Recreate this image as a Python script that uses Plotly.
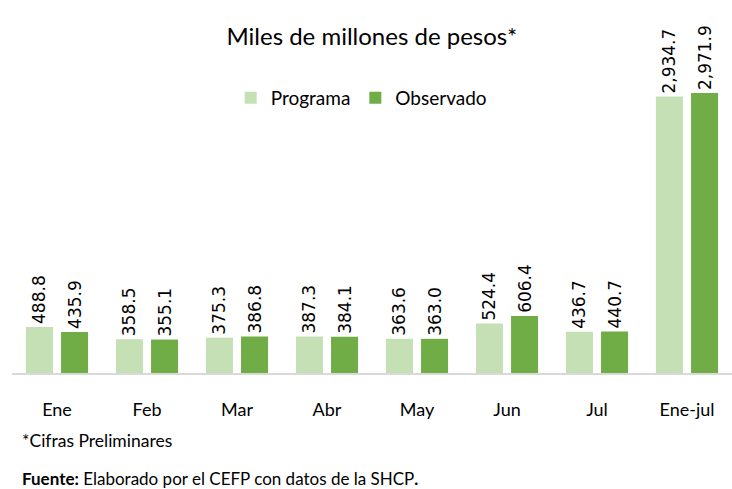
import plotly.graph_objects as go

categorias = ["Ene", "Feb", "Mar", "Abr", "May", "Jun", "Jul", "Ene-jul"]
programa = [488.8, 358.5, 375.3, 387.3, 363.6, 524.4, 436.7, 2934.7]
observado = [435.9, 355.1, 386.8, 384.1, 363.0, 606.4, 440.7, 2971.9]

TXT = "Lato, Noto Sans, sans-serif"
LBL = "DejaVu Sans, Verdana, sans-serif"

def fmt(v):
    return f"{v:,.1f}"

fig = go.Figure()
fig.add_trace(go.Bar(
    x=categorias, y=programa, name="Programa",
    marker=dict(color="#C5E0B4", line=dict(width=0)),
    text=[fmt(v) for v in programa], textposition="outside", textangle=-90,
    constraintext="none",
    textfont=dict(family=LBL, size=17, color="#000000"), cliponaxis=False,
))
fig.add_trace(go.Bar(
    x=categorias, y=observado, name="Observado",
    marker=dict(color="#70AD47", line=dict(width=0)),
    text=[fmt(v) for v in observado], textposition="outside", textangle=-90,
    constraintext="none",
    textfont=dict(family=LBL, size=17, color="#000000"), cliponaxis=False,
))

fig.update_layout(
    width=732, height=489,
    margin=dict(l=12, r=0, t=60, b=116, autoexpand=False),
    paper_bgcolor="white", plot_bgcolor="white",
    barmode="group", bargap=0.22, bargroupgap=0.23,
    title=dict(text="Miles de millones de pesos*", x=0.508, xanchor="center",
               y=1 - 37 / 489, yanchor="middle", yref="container",
               font=dict(family=TXT, size=24, color="#000000")),
    legend=dict(orientation="h", x=0.485, xanchor="center", y=0.879, yanchor="middle",
                font=dict(family=TXT, size=19, color="#000000"),
                itemwidth=30, traceorder="normal", bgcolor="rgba(0,0,0,0)"),
    xaxis=dict(showline=True, linecolor="#D9D9D9", linewidth=1.5, showgrid=False,
               ticks="outside", ticklen=20, tickcolor="rgba(0,0,0,0)",
               tickfont=dict(family=TXT, size=18, color="#000000")),
    yaxis=dict(range=[0, 3323], visible=False, showgrid=False),
    showlegend=True,
)

fig.add_annotation(text="*Cifras Preliminares", xref="paper", yref="paper",
                   x=0.011, y=(373 - 440) / 313, xanchor="left", yanchor="middle",
                   showarrow=False, font=dict(family=TXT, size=17.5, color="#000000"))
fig.add_annotation(text="<b>Fuente:</b> Elaborado por el CEFP con datos de la SHCP<b>.</b>",
                   xref="paper", yref="paper",
                   x=0.011, y=(373 - 478) / 313, xanchor="left", yanchor="middle",
                   showarrow=False, font=dict(family=TXT, size=17, color="#000000"))

fig.write_html("out.html", config={"displayModeBar": False},
               post_script="document.body.style.margin='0';")
